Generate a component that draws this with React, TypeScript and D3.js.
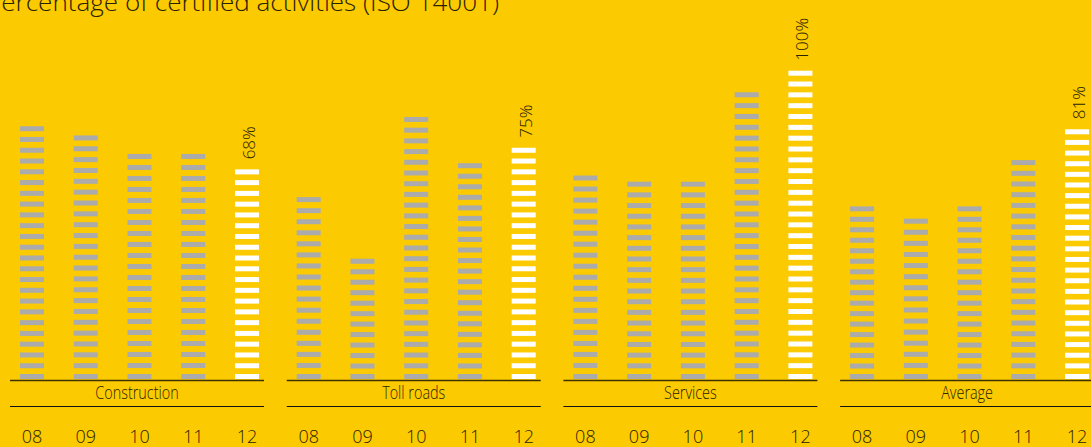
import React, { useEffect } from "react";
import * as d3 from "d3";

const groups = ["Construction", "Toll roads", "Services", "Average"];
const years = ["08", "09", "10", "11", "12"];
const construction = [82, 79, 73, 73, 68];
const tollRoads = [59, 39, 85, 70, 75];
const services = [66, 64, 64, 93, 100];
const average = [56, 52, 56, 71, 81];
const seriesByGroup = [construction, tollRoads, services, average];
const title = "Percentage of certified activities (ISO 14001)";

const W = 1091;
const H = 447;
const BG = "#FCCA00";
const GRAY = "#ABABAB";
const FONT = "'Open Sans', sans-serif";

export default function App() {
  useEffect(() => {
    document.body.style.margin = "0";
    document.body.style.background = BG;
  }, []);

  const xGroup = d3
    .scaleBand<string>()
    .domain(groups)
    .range([10, 1094.1])
    .paddingInner(0.082)
    .paddingOuter(0);
  const xYear = d3.scalePoint<string>().domain(years).range([22, 237]);
  const y = d3.scaleLinear().domain([0, 100]).range([379, 70.7]);

  const barW = 24;
  const dashH = 5;
  const pitch0 = 10.8;

  return (
    <svg
      width={W}
      height={H}
      style={{ position: "absolute", left: 0, top: 0, display: "block" }}
    >
      <rect x={0} y={0} width={W} height={H} fill={BG} />
      <text
        x={-14}
        y={11}
        fontFamily={FONT}
        fontWeight={300}
        fontSize={23}
        fill="#2a2200"
        textLength={513}
        lengthAdjust="spacingAndGlyphs"
      >
        {title}
      </text>
      {groups.map((g, gi) => {
        const gx = xGroup(g) as number;
        const bw = xGroup.bandwidth();
        const vals = seriesByGroup[gi];
        return (
          <g key={g}>
            {years.map((yr, yi) => {
              const v = vals[yi];
              const cx = gx + (xYear(yr) as number);
              const y0 = y(0);
              const h = y0 - y(v);
              const n = Math.max(1, Math.round((h + (pitch0 - dashH)) / pitch0));
              const pitch = n > 1 ? (h - dashH) / (n - 1) : 0;
              const isLast = yi === years.length - 1;
              const dashes = d3.range(n);
              return (
                <g key={yr}>
                  {dashes.map((i) => (
                    <rect
                      key={i}
                      x={cx - barW / 2}
                      y={y0 - dashH - i * pitch}
                      width={barW}
                      height={dashH}
                      fill={isLast ? "#FFFFFF" : GRAY}
                    />
                  ))}
                  {isLast && (
                    <text
                      transform={`translate(${cx + 8},${y(v) - 10}) rotate(-90)`}
                      fontFamily={FONT}
                      fontWeight={300}
                      fontSize={17}
                      fill="#2a2200"
                      textAnchor="start"
                    >
                      {`${v}%`}
                    </text>
                  )}
                  <text
                    x={cx}
                    y={443}
                    textAnchor="middle"
                    fontFamily={FONT}
                    fontWeight={300}
                    fontSize={18}
                    fill="#2a2200"
                  >
                    {yr}
                  </text>
                </g>
              );
            })}
            <line
              x1={gx}
              x2={gx + bw}
              y1={380.5}
              y2={380.5}
              stroke="#3d3300"
              strokeWidth={1.5}
            />
            <line
              x1={gx}
              x2={gx + bw}
              y1={406.5}
              y2={406.5}
              stroke="#111"
              strokeWidth={1}
            />
            <text
              transform={`translate(${gx + bw / 2},399) scale(0.8,1)`}
              textAnchor="middle"
              fontFamily={FONT}
              fontWeight={300}
              fontSize={18}
              fill="#2a2200"
            >
              {g}
            </text>
          </g>
        );
      })}
    </svg>
  );
}
